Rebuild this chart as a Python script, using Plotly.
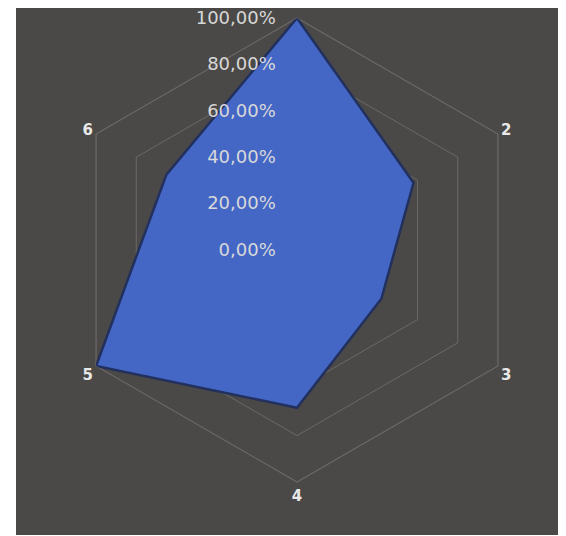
import plotly.graph_objects as go

categories = ["1", "2", "3", "4", "5", "6"]
values = [1.00, 0.58, 0.42, 0.68, 1.00, 0.65]
tick_labels = ["", "2", "3", "4", "5", "6"]
radial_ticks = [0, 0.2, 0.4, 0.6, 0.8, 1.0]
radial_tick_labels = ["0,00%", "20,00%", "40,00%", "60,00%", "80,00%", "100,00%"]

W, H = 566, 536
cx, cy, R = 289, 242, 232

pad = "<span style='color:rgba(0,0,0,0)'>__</span>"

fig = go.Figure()
fig.add_trace(go.Scatterpolar(
    r=values + values[:1],
    theta=categories + categories[:1],
    fill="toself",
    fillcolor="#4467c6",
    line=dict(color="#22305e", width=2.5),
    mode="lines",
    hoverinfo="skip",
))

fig.update_layout(
    width=W, height=H,
    margin=dict(l=0, r=0, t=0, b=0),
    paper_bgcolor="white",
    showlegend=False,
    shapes=[dict(type="rect", xref="paper", yref="paper",
                 x0=8 / W, x1=561 / W, y0=(H - 527) / H, y1=1,
                 fillcolor="#4b4947", line=dict(width=0), layer="below")],
    polar=dict(
        domain=dict(x=[(cx - R) / W, (cx + R) / W],
                    y=[(H - cy - R) / H, (H - cy + R) / H]),
        bgcolor="rgba(0,0,0,0)",
        gridshape="linear",
        radialaxis=dict(
            range=[0, 1],
            tickvals=radial_ticks,
            ticktext=[t + pad for t in radial_tick_labels],
            angle=90,
            tickangle=90,
            side="counterclockwise",
            showline=False,
            ticks="",
            gridcolor="#6b6967",
            gridwidth=1.2,
            tickfont=dict(family="DejaVu Sans", size=18, color="#d8d8d8"),
            layer="above traces",
        ),
        angularaxis=dict(
            direction="clockwise",
            rotation=90,
            tickvals=categories,
            ticktext=tick_labels,
            showgrid=False,
            showline=True,
            linecolor="#6b6967",
            linewidth=1.2,
            ticks="",
            tickfont=dict(family="DejaVu Sans", size=15, color="#e8e8e8",
                          weight="bold"),
            layer="below traces",
        ),
    ),
)

fig.write_html("out.html")
